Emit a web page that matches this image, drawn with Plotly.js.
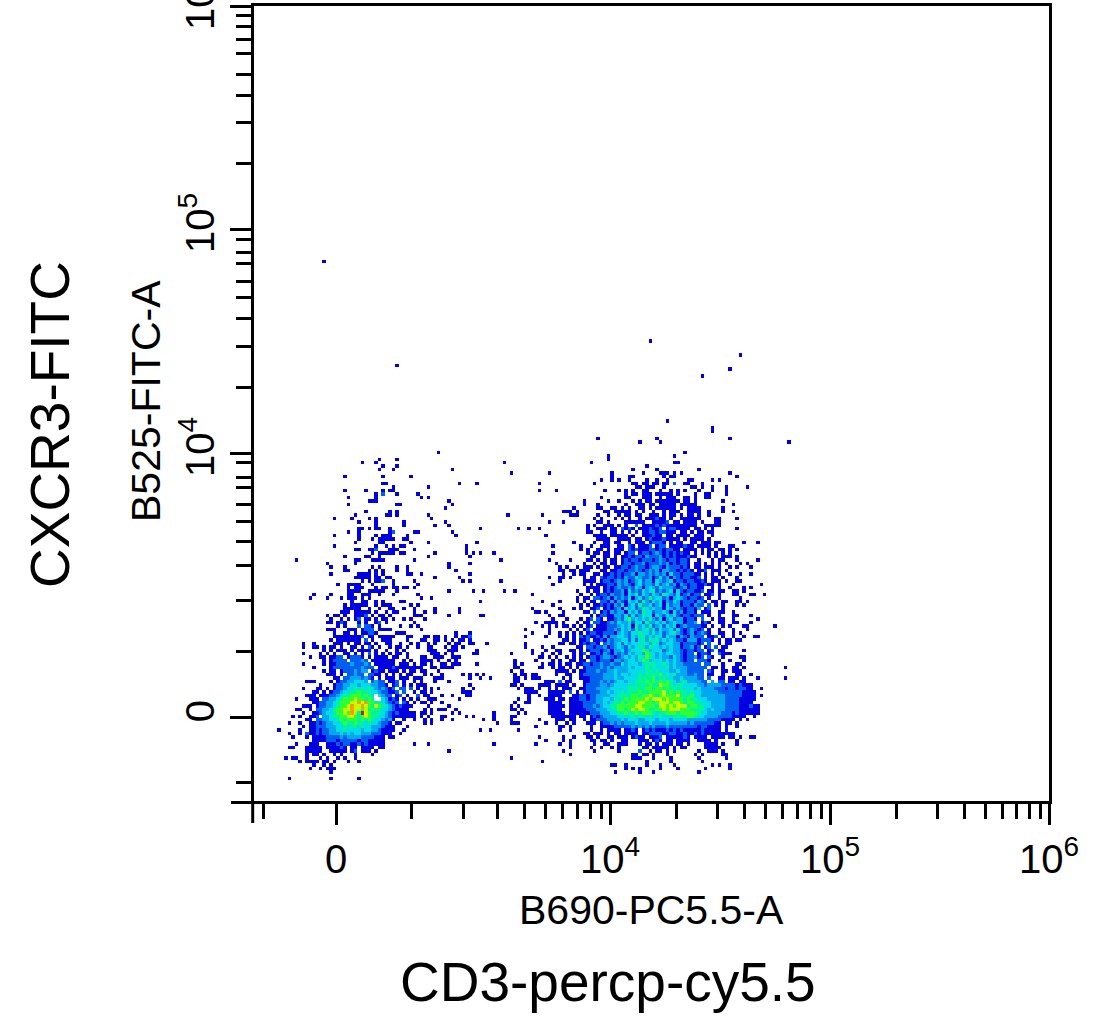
<!DOCTYPE html>
<html>
<head>
<meta charset="utf-8">
<script src="https://cdn.plot.ly/plotly-3.0.1.min.js"></script>
<style>body{margin:0;background:#fff}</style>
</head>
<body>
<div id="plot" style="width:1105px;height:1032px"></div>
<script>
// density levels, row by row: "startColumn:levels", 0 = empty cell
const leftRows = ["","","","51:1","","34:1 39:1","29:1 33:1 70:1","35:1 39:1","34:1 38:1 55:1","72:1","24:1 35:1 43:1","","35:11 57:1 62:1","38:1 48:1","24:1 30:1 35:1 37:11","33:1 35:2 39:1 45:1","25:1 33:1 46:1 48:1","31:111 54:1","25:1 39:11 55:1","53:1","30:1 37:1 39:1","27:1 36:11 39:1 48:1 71:1","21:1 26:1 31:1 33:1 49:1","28:1 33:1 41:1 53:1","33:1 41:1 50:1 54:1","28:11 31:1 33:11 37:1 63:1 74:1","25:1 28:1 37:1 38:2 44:11 55:1","21:1 28:1 33:1 35:111 37:1 42:1 56:1","28:1 32:1 34:1111 38:1 41:11","27:1 34:11 43:1 48:1 62:1","21:1 33:1 36:1 38:1 40:11 59:1","27:11 31:11 33:2 37:11 39:1 44:1 59:1","32:1 34:11111 40:11 50:1 59:1 61:1 63:1 67:1","24:1 30:11 34:1 48:1 60:1","10:1 27:11 32:1111 44:1 69:1","19:1 27:1 54:1 60:1","20:1 24:1 32:1 34:1 39:1 42:1 54:1","24:11 31:1 33:1 35:1 39:1 42:1 56:1","20:1 28:111 31:1 33:1 35:1 42:11 46:1 60:1","27:1111 31:1 33:11 36:11 50:1 57:1","29:1 31:1 33:11 35:2 38:1 44:1 58:1 60:1 69:1","22:1 25:111 28:1 32:1 38:1 45:1","25:1 27:11 29:1 33:1 35:11 38:11 41:11 44:1","25:111 28:1 31:111 34:11 39:1 54:1 61:1 64:1 70:1 73:1","15:1 20:1 25:11 29:1 30:11 34:1 38:1 45:1","14:1 19:1 23:1 25:111 29:1 31:1 46:1 49:1","26:1 29:11 33:1 35:1 40:11 63:1","24:1 26:1111 30:1 33:1 35:11 37:1 43:1 45:1","24:11111 31:1 34:1 37:11 41:1 44:1 50:1 57:1","23:111 27:11111 33:1 36:1 38:11 44:1 47:1 50:1 57:1","19:1 21:11 24:1 27:1112 32:1 34:11 37:1 44:11 46:1 54:1 63:11","20:1 23:1 25:1 27:12 30:11 33:1 35:11 38:1 41:1 43:1 47:1","19:11 22:12 24:1 28:1 30:1 33:12 36:1 44:1","22:1 24:1 28:2 30:22 32:1 34:1 40:1 43:1 45:1","19:111 21:1 25:11 27:1 29:1222 34:1111 46:1","21:1 24:11 27:1 29:1122 33:1 39:11 41:1 56:1 60:1","21:11111 26:111 29:2 31:11 34:11111 42:11 47:11 50:11 53:1 56:1 58:11 60:2","20:1 22:1111 26:11 28:1 30:2 32:1 35:111 42:1 46:11 50:11 53:1 55:1 57:11 60:1","12:1 15:1 21:11 23:1 25:1 27:11 30:11 33:1 36:11 40:1 43:1 45:1 48:1 50:1 54:1 56:11 60:11 65:1","12:1 15:11 18:1 20:11 23:1 26:11 29:1 31:21 34:1 37:1 39:11 42:1 45:1 48:11 53:1 55:11 58:1","18:1 20:1 22:111 26:1 28:111 31:1 33:1 36:1 39:1 41:1 48:111 54:111 62:1","12:1 17:1 19:1 21:1 24:11 27:1 29:1 31:2 33:1 35:1 37:1 39:11 42:1 49:111 53:1 55:1 61:11","14:1 17:11 20:1122 25:12221 31:1 33:1111 38:11 42:1 46:11 50:11 52:1 55:11 57:1","18:1 20:12222 26:22232 32:11111 37:11 41:1 43:1 46:111 49:1 51:1 54:1 56:1","12:1 18:1 20:11222 25:2322232 33:11111 38:1 40:111 44:1 46:11 49:1 52:11 55:111 62:1","15:1 20:1222 24:22 26:2223222 34:1111 38:21 40:111 43:111 46:1 49:11 52:1111","18:1 20:11 23:12223233 32:12110 37:1 38:11 41:1 43:11 46:11 51:1 72:1","19:111 23:1 25:22322 31:22 33:11 36:1 38:1 40:1 42:11 47:1 49:1 52:1 58:1 60:1 62:1 64:1 73:1","21:11 24:2233323 31:21 34:1 36:111 40:111 44:111 50:11 52:1 60:1 63:1 66:1 73:1","13:111 20:1 22:122334443 32:2322 37:112 41:1 44:1 46:1 50:1 54:1 73:11","17:1 21:12 23:2334434443 33:3221 38:12 41:1 43:1 45:111 60:1 72:11","12:1 16:11 19:1 21:1223445454543 34:23212 40:22 43:2 45:1 47:1 49:1 51:1 58:1 61:1","15:11 18:1 20:1223445565554 33:43221 38:12 41:2 44:1 46:11 49:1 58:111","13:111 17:11 19:12234556665654 34:4322 39:12 42:1 45:2 47:11 52:1 55:1 59:11","10:1 14:111 18:223345666766565 35:43121 41:1 43:1 45:1 48:11 50:1 57:1 74:1","15:11 17:2233456667787866554 36:3212 41:21 44:1 46:11 49:1 52:1 73:1","12:111 16:1223 20:3456 24:6787 28:787657654 37:3212 41:11 43:1 48:1 54:1","10:11 14:1 16:223 19:34566 24:77877 29:6756554 36:4321 40:1 41:11 47:1 49:1 51:111 56:1","12:1 15:11 17:23 19:4456 23:67687 28:59765 33:5543 37:2121 41:111 44:1 46:11 49:1 55:1 57:1 67:1","9:1 11:1 14:112 18:3345 22:5667765 29:6765 33:5443 37:2111 41:11 43:11 46:1 48:1 52:11 59:1 61:1 67:1 72:11","13:11 16:223 19:3445 23:6566656 30:5654 34:4323 38:1 41:1 44:1 47:1 49:1 52:1 55:1 64:1 67:1 72:1","8:1 11:1 14:1121 18:2334 22:4565565 29:54544 34:3221 39:11 47:1 49:1 68:1 72:111","12:1 14:11222 19:3334 23:4545 27:5454 31:4333 35:211 38:1 42:1","5:1 11:1 14:1121 18:22334 23:4544 27:44344 32:3321 36:11 38:1 41:1 63:1 66:1 74:1","8:1 11:1 13:2112 17:1223 21:33434 26:34433 31:3222 35:111 40:1","9:1 13:1 15:1111 19:2222 23:3233 27:3322 31:2211 35:1 37:11","15:111 18:1222 22:1222 26:2212 30:2111 34:11","10:1 14:11 16:1 19:1112 23:1221 27:1212 31:1111 35:1 44:1 48:1 67:1","8:11 13:11 15:111 19:11 21:1121 26:11 29:1111 34:11","13:1111 17:1 20:1111 24:1 26:12 29:11 31:1 33:1 54:1","13:1 15:11 18:1 21:1 23:1 27:1 32:1","7:1 9:11 13:1 17:1 19:1 22:1 24:1 27:1 72:1","11:1 13:111 16:1 18:11 21:1 25:1 28:1","15:1 18:1 20:1","14:1 17:1 19:11 21:1","20:1","","8:1 20:1 28:1"];

const rightRows = ["","","","50:1","28:1 47:1","28:1","23:1 47:11","39:1","35:1 42:1 54:1","0:1 11:1 29:1 38:1 43:111 47:1 49:1 63:1","29:1 34:11 44:1 46:11 65:1","26:1 29:1 31:1 34:1 39:1 42:1 45:1 51:11 58:1 60:1","8:1 24:1 35:11 38:11 41:11 44:11 47:2 50:11 55:1","36:11 39:11 41:1 44:1 52:11 55:1 58:1 62:1 68:1","8:1 13:1 27:1 31:1 33:1 35:1 38:11 43:1 46:1 48:1 50:1 54:1 58:1 62:1",
"33:1 35:11 38:1110 42:111 45:11 48:1 53:1 56:11 62:1",
"26:1 33:11 38:1110 43:1 45:111 50:11 53:1 56:11",
"21:1 28:1 31:1 35:1 37:10110 42:11 44:1111 48:1 50:11 53:1 61:1",
"21:1 25:1 33:1 36:111 40:11 43:11111 49:1110 52:11 64:1",
"18:1 25:11 29:11 32:1 34:1 37:1101 42:11111 47:1 49:1011 53:11 61:1",
"15:111 19:1 27:11 30:11111 36:1 38:1 41:1 44:1 46:1110 51:1111 57:1 61:1 64:1",
"9:1 17:111 25:1 28:1 31:1 33:110 36:11 40:111 44:1 46:11 49:1 51:110 54:1 57:1",
"24:1 26:1 30:1 32:1 34:1 37:1 39:1112 43:11 46:1 49:1111 53:11 59:11 65:1",
"11:1 15:1 25:11 28:1 33:11 35:11110 41:111 44:12 47:11 50:1111 55:1 59:11",
"22:1 24:1 27:1110 31:1 33:1 36:2 38:1111 42:212 45:1111 49:11 51:1110 56:111 59:11",
"2:1 5:1 8:1 22:1 25:11101 29:11 32:21 34:21 37:11 39:12 41:112 45:122 48:11 50:11 53:11 56:1 58:1 65:1",
"22:11 26:1 29:11 32:101 36:1 38:112 41:21 43:221 46:11 49:1101 54:11 57:11",
"10:1 24:11 26:110 29:111 32:11 35:1 38:11 40:12 42:11 45:11 48:11 50:1101 54:11 58:1",
"25:11110 31:1111 36:11 39:1211 43:12 45:11 47:11 50:1 52:1111 57:1",
"18:1 24:1 27:11 30:11 34:1 36:11 38:1 40:122 43:21 46:1 48:11 52:11 55:111 59:11 67:1 71:1",
"12:1 20:1 23:1 26:1110 31:11 34:21 37:11 39:12 42:122 46:11 48:112 51:11 54:1111 59:1 63:11",
"20:1 22:1 25:11 28:101 31:1102 35:12 37:11 39:1221 43:2122 47:11 50:1111 55:1 57:11011 63:1 65:1",
"12:1 22:1 24:11011 30:11 33:122 37:12 39:21 41:232 44:1212 48:1211 53:101 57:1 59:101 63:1",
"23:110 27:11 30:1 32:1 33:1212 37:2 38:13 40:22 42:231 45:2 46:1211 50:12 52:110 57:1 59:10111 65:1",
"11:1 17:1 22:110101 29:11 32:1212 36:212 39:221 42:2 43:3212 47:2122 51:1 54:1 58:101 61:1 65:1 71:1",
"13:1 21:1 24:1011 29:1101 33:2212 37:2312 41:2232 45:312 48:122 51:1 53:11 56:1 58:101 62:1 66:1 68:1",
"14:1 16:1 19:1 21:11101 27:1101 31:1221 35:2322 39:1233 43:2132 47:2212 51:1 53:11 56:11 58:101 63:1 65:1 69:1",
"14:11 17:1101 21:11 26:110112 32:2122 36:3212 40:3231 44:3322 48:1212 52:1 54:112 58:11 60:101",
"15:1 18:101 21:1 24:1101 28:1212 32:1223 36:1332 40:3232 44:3142 48:2122 52:211 56:1 58:101 63:1 66:1 69:1",
"11:1 14:11 17:1 21:1 23:1102 27:1221 31:2132 35:2432 39:2312 43:4231 47:3212 51:2112 56:1 58:11 61:1 65:1",
"14:1 21:11 23:11012 28:2123 32:2312 36:3423 40:3143 44:2341 48:2212 52:21121 58:11 60:1 62:1 65:11",
"12:1 21:101 25:1112 29:2132 33:3213 37:4233 41:2423 45:4231 49:3212 53:2112 57:11 60:1 64:1 72:1",
"22:11 24:11012 29:1232 33:2324 37:3134 41:3243 45:3321 49:2312 53:211 58:1 60:1 63:1 67:1 69:1",
"19:1 22:1 24:1101 28:2122 32:3142 36:3243 40:4523 44:2341 48:4212 52:2112 57:11 60:11 64:11 67:1",
"6:1 20:1 23:1012 27:2132 31:2314 35:3524 39:3243 43:2543 47:2412 51:3122 56:112 60:1 64:11 69:11 73:1",
"19:1 21:1102 25:2123 29:1323 33:2413 37:4235 41:3442 45:3134 49:3212 53:212 57:1 60:1 66:1",
"9:1 14:1 19:101 23:1102 27:2131 31:3214 35:3425 39:3243 43:4132 47:4312 51:2213 55:21 58:11 61:11 65:11 68:1",
"12:1 20:1 22:10112 27:1213 31:2413 35:4253 39:3423 43:4142 47:3312 51:2132 55:2 57:2 59:1 61:1 65:1 67:1",
"6:1 14:1 18:1 20:1 23:11201 28:2123 32:1434 36:2354 40:3433 44:1432 48:3212 52:213 56:12 61:1",
"7:11 10:1 15:1 21:11 24:2012 28:1323 32:3143 36:4254 40:4233 44:4314 48:2312 52:2101 56:11 60:11 64:1",
"11:1 14:11 23:1012 27:2113 31:3242 35:4235 39:4414 43:3243 47:4212 51:2122 55:2 57:1 60:1 64:11 69:1",
"12:1 16:1 20:1 22:12021 28:1123 32:2463 36:4343 40:5324 44:1342 48:3312 52:2102 58:1 60:11 64:1 71:1",
"7:1 10:111 13:1 15:1 19:1 21:1102 25:2112 29:3243 33:3424 37:4253 41:3434 45:2343 49:3122 53:3012 57:1 60:11 64:11 69:1",
"9:1 11:1 13:1 15:11 18:101 22:1201 26:1122 30:2343 34:4153 38:4352 42:3424 46:3412 50:3222 54:211 58:1 61:101 67:11 76:1",
"4:1 11:1 17:1 19:1 21:1201 25:1112 29:2324 33:3425 37:3453 41:4243 45:3424 49:2123 53:212 57:1 60:1 64:1 68:1",
"6:1 11:1 14:101 18:1 20:1012 24:2112 28:2213 32:4324 36:4544 40:3534 44:2345 48:3212 52:3123 56:21 60:11 64:101",
"4:1 10:1 14:1 16:1 18:1021 22:2112 26:1313 30:3443 34:2435 38:5343 42:4424 46:3313 50:2132 54:2201 58:12 61:1 64:1 67:1 70:11",
"15:11 18:101 21:1201 25:1213 29:2334 33:4242 37:4535 41:4534 45:3432 49:2133 53:3122 57:21 60:1 62:11 65:11",
"4:1 14:11 17:11 20:1212 24:2102 28:3234 32:2434 36:4454 40:3542 44:3443 48:3122 52:2212 57:2 60:101 63:1",
"4:1 9:1 12:1 19:1102 23:2122 27:3123 31:4324 35:3454 39:3544 43:3434 47:3312 51:2312 56:12 59:2 61:11",
"6:1 10:1 13:11 17:11 20:1012 24:2212 28:3133 32:4234 36:4465 40:3444 44:2343 48:3212 52:2122 57:12 60:11 67:1",
"0:1 6:1 9:1 12:1 14:1 18:1 20:1201 24:1213 28:2132 32:3243 36:4436 40:5434 44:3443 48:3212 52:2012 56:21 60:21 62:11",
"8:11 11:1 13:1 16:101 20:1012 24:2123 28:3212 32:3434 36:3546 40:5434 44:3324 48:3212 52:2312 57:21 61:1 66:11",
"1:1 7:1 12:1 14:1 17:11 20:1102 24:2122 28:2133 32:2344 36:3465 40:3444 44:3434 48:3212 52:2022 56:21 60:1 63:1 67:1",
"1:1 3:1 9:1 11:11 14:1 16:11 19:1122 23:1223 27:2232 31:24344 36:43455 41:54454 46:34332 51:2222 56:22 61:1 65:11",
"1:11 8:11 12:1 14:11 17:1 19:1 21:1222 25:2323 29:2333 33:34344 38:45454 43:44534 48:33322 53:2222 58:11 61:1 64:11 67:1 79:1",
"3:1 13:111 16:1 18:1 20:1122 24:2322 28:3343 32:33444 37:44554 42:54443 47:34332 52:2222 57:21 61:11 64:111",
"3:11 6:11 13:1 16:11 20:1222 24:2223 28:3343 32:44344 37:54555 42:56454 47:53332 52:2322 57:11 61:1 65:11 69:1",
"2:1 4:1 6:111 15:1 17:1 20:1112 24:2223 28:3343 32:34444 37:55556 42:45544 47:33433 52:3322 57:2 60:11 63:111 67:1 71:1 79:1",
"1:11 10:111 14:2 16:11 21:1122 25:2323 29:2344 33:34455 38:56565 43:65654 48:34533 53:3322 58:3 60:22 63:11 66:11",
"3:1 8:1111 13:111 16:1 18:1 21:1222 25:2332 29:3444 33:45455 38:55655 43:76654 48:55444 53:4332 57:3333 61:2222 65:121 68:11",
"2:1 4:111 8:1 11:1 13:1 15:11 17:1 20:1122 24:2333 28:3444 32:44555 37:55665 42:66565 47:54544 52:4343 56:3332 60:2212 64:2122 68:11 72:1",
"4:1111 11:111 14:11 17:2 19:1 21:1222 25:2334 29:3445 33:45556 38:55666 43:67565 48:65545 53:4433 57:3332 61:2222 65:2211 69:11",
"5:1 8:1 11:111 14:1 18:11 20:2212 24:2333 28:3445 32:55566 37:56676 42:56766 47:67555 52:6443 56:3333 60:3322 64:2221 68:111 72:1",
"2:1 5:1 10:111011 17:111 20:2212 24:2334 28:4354 32:56566 37:66767 42:77676 47:66656 52:5544 56:4333 60:3322 64:2211 68:111",
"4:11 11:111 14:1 17:111 20:1222 24:2334 28:3455 32:65666 37:77665 42:67776 47:77656 52:6554 56:4433 60:3322 64:2211 68:11",
"0:1 2:1 11:1111 15:1 17:111 20:1222 24:3234 28:4556 32:66667 37:76666 42:57767 47:67775 52:6655 56:4433 60:3322 64:2211 68:1211",
"0:11 3:1 11:1111 17:1111 21:1222 25:3334 29:4566 33:56767 38:76556 43:67677 48:76665 53:5554 57:3433 61:3222 65:2111 69:111",
"2:1 4:1 11:1111 15:1 17:11111 22:1222 26:3334 30:4556 34:55656 39:66545 44:56665 49:66666 54:5443 58:3332 62:2212 66:1111 70:11",
"12:11111 17:11 20:11 23:1212 27:3333 31:4444 35:54554 40:54454 45:44555 50:56654 55:4333 59:3222 63:2111 67:1 70:1",
"8:1 13:111 17:11 21:1 23:1122 27:2333 31:3434 35:44334 40:44344 45:43444 50:43333 55:3322 59:2211 63:11 66:1 68:1",
"10:1 13:1 16:1 18:1 22:11 24:1 26:1223 30:2323 34:33433 39:34333 44:34333 49:33232 54:2222 58:211 62:11 65:1",
"7:1 14:11 17:1 23:1 26:111 29:1222 33:22323 38:23232 43:22322 48:22222 53:2122 57:1111 62:1 65:1",
"14:1 17:1 23:1 26:1 28:1111 33:1121 38:12121 43:11212 48:12111 53:1121 57:1111 62:1",
"21:11 24:111 28:1 30:11 33:1111 38:11222 43:21122 48:11211 53:2121 57:11111 62:111",
"8:1 15:1 18:1 22:11 25:1 28:11 31:111 35:1211 40:1112 45:111 48:1121 53:1111 58:1111 63:11 66:1 69:11",
"10:1 15:1 17:1 23:11 26:11 29:1 32:11 37:111 41:121 45:11 48:1111 54:1111 59:1 65:1",
"7:1 14:1 17:1 24:1 27:11 31:111 37:1 39:11 42:1 44:111 48:11 51:1 56:1111 61:1 65:1",
"17:1 23:1 26:1 29:1 31:1 38:11 41:11111 47:1 49:11 56:1111 60:1",
"15:1 24:1 31:1 37:2 40:1 42:11 45:1 47:1 54:1 57:111 59:1 61:1",
"17:1 35:11 38:11 41:1 45:1 53:1 55:1 61:11",
"0:1 35:111 41:1 46:1 54:1 62:1",
"9:1 39:1 46:1 55:1",
"29:11 33:1 39:1 43:1 47:1 58:1 60:1 63:1",
"33:1 35:1 37:1 43:1 48:1 56:1 63:1",
"30:1 37:1 41:1 54:1"];

const leftColumns = 0;
const rightColumns = 72;
const strayCols = [18, 39, 112, 138, 135, 127, 117, 130, 130, 97, 109, 114, 115, 135, 152];
const strayRows = [-52, -22, -29, -25, -21, -19, -6, -3, -4, -1, 0, -1, 0, -1, 0];

const levelColors = ["#0000e0", "#0060ee", "#00a8f0", "#00dce8", "#00f59a", "#30ff30", "#c0ff00", "#ff9a00", "#f01000"];

// ticks as measured along the picture's axes
const xMajor = [336, 610, 830, 1049];
const xLabels = ["0", "10<sup>4</sup>", "10<sup>5</sup>", "10<sup>6</sup>"];
const xMinor = [263, 411, 463, 497, 524, 545, 562, 577, 590, 601, 676, 717, 744, 765, 782, 797, 810, 821, 896, 937, 964, 985, 1002, 1016, 1029, 1040];
const yMajor = [717, 453, 229, 6];
const yLabels = ["0", "10<sup>4</sup>", "10<sup>5</sup>", "10<sup>6</sup>"];
const yMinor = [782, 651, 600, 565, 541, 521, 504, 487, 477, 462, 387, 346, 318, 297, 281, 263, 252, 239, 163, 122, 95, 74, 53, 39, 26, 15];

const cell = 3.47;
const colOf = px => (px - 260) / cell;
const rowOf = py => (py - 440) / cell;
const firstRow = -60, rowCount = 165, colCount = 160;

const z = [];
for (let r = 0; r < rowCount; r++) z.push(new Array(colCount).fill(null));

function addRows(rows, offset) {
  rows.forEach((line, r) => {
    if (!line) return;
    for (const run of line.split(" ")) {
      const [start, levels] = run.split(":");
      [...levels].forEach((level, i) => {
        if (level !== "0") z[r - firstRow][Number(start) + offset + i] = Number(level);
      });
    }
  });
}
addRows(leftRows, leftColumns);
addRows(rightRows, rightColumns);
strayCols.forEach((c, i) => { z[strayRows[i] - firstRow][c] = 1; });

const colorscale = [];
levelColors.forEach((color, i) => {
  colorscale.push([i / levelColors.length, color], [(i + 1) / levelColors.length, color]);
});

const trace = {
  type: "heatmap",
  z: z,
  x: Array.from({ length: colCount }, (_, c) => c + 0.5),
  y: Array.from({ length: rowCount }, (_, r) => r + firstRow + 0.5),
  zmin: 0.5,
  zmax: 9.5,
  zsmooth: false,
  colorscale: colorscale,
  showscale: false,
  hoverinfo: "skip",
};

const font = "'Liberation Sans', Arial, sans-serif";

function axis(major, labels, minor, toUnits, range, extra) {
  return Object.assign({
    range: range,
    tickmode: "array",
    tickvals: major.map(toUnits),
    ticktext: labels,
    ticks: "outside",
    ticklen: 21,
    tickwidth: 3,
    tickcolor: "#000",
    tickfont: { family: font, size: 40, color: "#000" },
    ticklabeloverflow: "allow",
    showgrid: false,
    zeroline: false,
    showline: true,
    linecolor: "#000",
    linewidth: 3,
    mirror: true,
    minor: {
      tickmode: "array",
      tickvals: minor.map(toUnits),
      ticks: "outside",
      ticklen: 15,
      tickwidth: 3,
      tickcolor: "#000",
      showgrid: false,
    },
  }, extra);
}

const paperX = px => (px - 254) / 795;
const paperY = py => (801 - py) / 795;

function label(text, px, py, size, angle) {
  return {
    text: text,
    xref: "paper",
    yref: "paper",
    x: paperX(px),
    y: paperY(py),
    xanchor: "center",
    yanchor: "middle",
    showarrow: false,
    textangle: angle,
    font: { family: font, size: size, color: "#000" },
  };
}

// the long corner ticks have no label
const cornerTick = (x0, y0, x1, y1) => ({
  type: "line",
  xref: "paper",
  yref: "paper",
  x0: paperX(x0),
  y0: paperY(y0),
  x1: paperX(x1),
  y1: paperY(y1),
  line: { color: "#000", width: 3 },
});

const layout = {
  width: 1105,
  height: 1032,
  margin: { l: 254, r: 56, t: 6, b: 231, autoexpand: false },
  paper_bgcolor: "#fff",
  plot_bgcolor: "#fff",
  showlegend: false,
  xaxis: axis(xMajor, xLabels, xMinor, colOf, [colOf(254), colOf(1049)], { automargin: false }),
  yaxis: axis(yMajor, yLabels, yMinor, rowOf, [rowOf(801), rowOf(6)], { automargin: false, tickangle: -90 }),
  shapes: [cornerTick(231, 802.5, 253, 802.5), cornerTick(252.7, 802, 252.7, 823)],
  annotations: [
    label("B690-PC5.5-A", 651, 910, 41, 0),
    label("CD3-percp-cy5.5", 608, 982, 55, 0),
    label("B525-FITC-A", 146, 401, 41, -90),
    label("CXCR3-FITC", 50, 425, 55, -90),
  ],
};

Plotly.newPlot("plot", [trace], layout, { displayModeBar: false, responsive: false });
</script>
</body>
</html>
